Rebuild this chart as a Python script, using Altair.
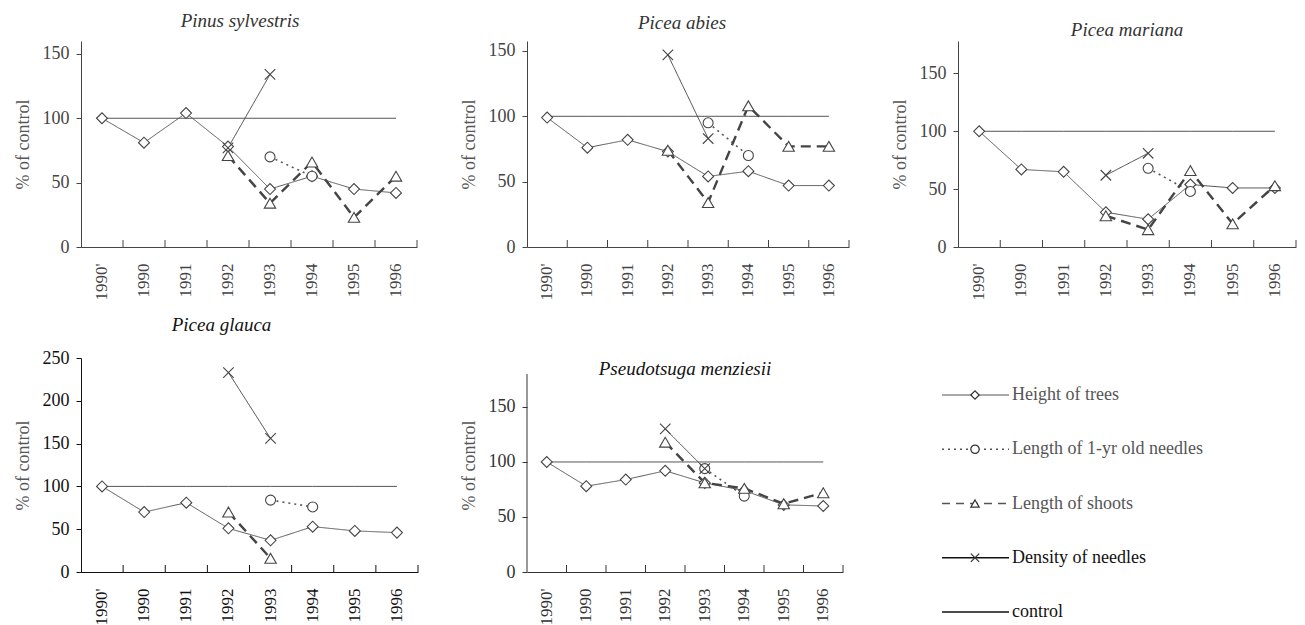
import altair as alt
import pandas as pd

YEARS = ["1990'", "1990", "1991", "1992", "1993", "1994", "1995", "1996"]
SERIES = ["Height of trees", "Length of 1-yr old needles", "Length of shoots", "Density of needles"]
LEGEND_ITEMS = SERIES + ["control"]
CONTROL = [100, 100, 100, 100, 100, 100, 100, 100]

# Pinus sylvestris
pinus_height = [100, 81, 104, 78, 45, 55, 45, 42]
pinus_needles = [None, None, None, None, 70, 55, None, None]
pinus_shoots = [None, None, None, 71, 34, 66, 23, 55]
pinus_density = [None, None, None, 77, 134, None, None, None]

# Picea abies
abies_height = [99, 76, 82, 73, 54, 58, 47, 47]
abies_needles = [None, None, None, None, 95, 70, None, None]
abies_shoots = [None, None, None, 74, 34, 108, 77, 77]
abies_density = [None, None, None, 147, 83, None, None, None]

# Picea mariana
mariana_height = [100, 67, 65, 30, 24, 54, 51, 51]
mariana_needles = [None, None, None, None, 68, 48, None, None]
mariana_shoots = [None, None, None, 27, 15, 66, 20, 53]
mariana_density = [None, None, None, 62, 81, None, None, None]

# Picea glauca
glauca_height = [100, 70, 81, 51, 37, 53, 48, 46]
glauca_needles = [None, None, None, None, 84, 76, None, None]
glauca_shoots = [None, None, None, 70, 16, None, None, None]
glauca_density = [None, None, None, 233, 156, None, None, None]

# Pseudotsuga menziesii
pseudo_height = [100, 78, 84, 92, 81, 74, 61, 60]
pseudo_needles = [None, None, None, None, 94, 69, None, None]
pseudo_shoots = [None, None, None, 118, 81, 76, 62, 72]
pseudo_density = [None, None, None, 130, 94, None, None, None]

SERIF = "Liberation Serif"
X_SHAPE = "M-1,-1L1,1M-1,1L1,-1"

LINE_STYLE = {
    "Height of trees": dict(strokeDash=[1, 0], strokeWidth=1.0, color="#555555"),
    "Length of 1-yr old needles": dict(strokeDash=[2, 4], strokeWidth=1.6, color="#555555"),
    "Length of shoots": dict(strokeDash=[10, 6], strokeWidth=2.4, color="#444444"),
    "Density of needles": dict(strokeDash=[1, 0], strokeWidth=1.0, color="#444444"),
}
POINT_STYLE = {
    "Height of trees": dict(shape="diamond", size=120),
    "Length of 1-yr old needles": dict(shape="circle", size=100),
    "Length of shoots": dict(shape="triangle-up", size=130),
    "Density of needles": dict(shape=X_SHAPE, size=110),
}


def long_df(h, n, s, d):
    rows = []
    for name, vals in zip(SERIES, [h, n, s, d]):
        for yr, v in zip(YEARS, vals):
            if v is not None:
                rows.append({"year": yr, "series": name, "value": v})
    for yr, v in zip(YEARS, CONTROL):
        rows.append({"year": yr, "series": "control", "value": v})
    return pd.DataFrame(rows)


def panel(title, df, width, height, ymax, yticks, t_offset, t_dx=0, t_dy=0,
          axis_top=None, ink="#444444", title_color="#333333"):
    def xenc(bp):
        return alt.X(
            "year:N", sort=YEARS, bandPosition=bp,
            scale=alt.Scale(type="band", domain=YEARS, paddingInner=0, paddingOuter=0),
            axis=alt.Axis(title=None, labelAngle=270, ticks=False, tickSize=0,
                          labelPadding=16, labelFontSize=17, domainColor=ink,
                          labelColor=ink, labelFont=SERIF),
        )

    yenc = alt.Y(
        "value:Q",
        scale=alt.Scale(domain=[0, ymax], nice=False, zero=False),
        axis=alt.Axis(values=yticks, title="% of control", grid=False,
                      domain=axis_top is None, tickSize=5, labelPadding=7,
                      titlePadding=10, labelColor=ink, domainColor=ink,
                      tickColor=ink, labelFont=SERIF, labelFontSize=18,
                      titleFont=SERIF, titleFontSize=18, titleFontWeight="normal",
                      titleColor="#555555"),
    )
    base = alt.Chart(df)
    layers = [
        base.transform_filter(alt.datum.series == "control")
        .mark_line(color="#555555", strokeWidth=1)
        .encode(x=xenc(0.5), y=yenc)
    ]
    for s in SERIES:
        layers.append(
            base.transform_filter(alt.datum.series == s)
            .mark_line(**LINE_STYLE[s])
            .encode(x=xenc(0.5), y=yenc)
        )
    for s in SERIES:
        ps = POINT_STYLE[s]
        layers.append(
            base.transform_filter(alt.datum.series == s)
            .mark_point(shape=ps["shape"], size=ps["size"], filled=True,
                        fill="white", stroke="#444444", strokeWidth=1.1, opacity=1)
            .encode(x=xenc(0.5), y=yenc)
        )
    # inward tick marks at band boundaries of the x axis
    layers.append(
        alt.Chart(pd.DataFrame({"year": YEARS[1:]}))
        .mark_rule(color=ink, strokeWidth=1)
        .encode(x=xenc(0), y=alt.value(height), y2=alt.value(height - 7))
    )
    layers.append(
        alt.Chart(pd.DataFrame({"year": YEARS[-1:]}))
        .mark_rule(color=ink, strokeWidth=1)
        .encode(x=xenc(1), y=alt.value(height), y2=alt.value(height - 7))
    )
    if axis_top is not None:
        layers.append(
            alt.Chart(pd.DataFrame({"value": [0], "value2": [axis_top]}))
            .mark_rule(color=ink, strokeWidth=1)
            .encode(x=alt.value(0), y=yenc, y2="value2:Q")
        )
    return alt.layer(*layers).properties(
        width=width, height=height,
        title=alt.TitleParams(title, font=SERIF, fontStyle="italic", fontSize=19,
                              fontWeight="normal", color=title_color,
                              offset=t_offset, dx=t_dx, dy=t_dy, anchor="middle"),
    )


p1 = panel("Pinus sylvestris", long_df(pinus_height, pinus_needles, pinus_shoots, pinus_density),
           336, 206, 160, [0, 50, 100, 150], 10, t_dx=-9)
p2 = panel("Picea abies", long_df(abies_height, abies_needles, abies_shoots, abies_density),
           322, 206, 157.6, [0, 50, 100, 150], 8, t_dx=-6)
p3 = panel("Picea mariana", long_df(mariana_height, mariana_needles, mariana_shoots, mariana_density),
           338, 206, 178, [0, 50, 100, 150], 1)
p4 = panel("Picea glauca", long_df(glauca_height, glauca_needles, glauca_shoots, glauca_density),
           337, 214, 250, [0, 50, 100, 150, 200, 250], 14, t_dx=-28,
           ink="#111111", title_color="#111111")
p5 = panel("Pseudotsuga menziesii", long_df(pseudo_height, pseudo_needles, pseudo_shoots, pseudo_density),
           316, 214, 194.5, [0, 50, 100, 150], 0, t_dy=21, axis_top=180,
           ink="#333333", title_color="#111111")

# legend panel
leg_df = pd.DataFrame({"item": LEGEND_ITEMS})
ly = alt.Y("item:N", sort=LEGEND_ITEMS,
           scale=alt.Scale(type="point", domain=LEGEND_ITEMS, range=[37, 254], padding=0),
           axis=None)
leg_color = alt.Color("item:N", scale=alt.Scale(domain=LEGEND_ITEMS,
                      range=["#555555", "#555555", "#555555", "#111111", "#111111"]), legend=None)
leg_rule = alt.Chart(leg_df).mark_rule().encode(
    x=alt.value(-16), x2=alt.value(51), y=ly, color=leg_color,
    strokeDash=alt.StrokeDash("item:N", scale=alt.Scale(
        domain=LEGEND_ITEMS, range=[[1, 0], [2, 4], [8, 6], [1, 0], [1, 0]]), legend=None),
    strokeWidth=alt.StrokeWidth("item:N", scale=alt.Scale(
        domain=LEGEND_ITEMS, range=[1.2, 1.6, 1.6, 2, 2]), legend=None),
)
leg_pts = alt.Chart(leg_df).transform_filter(alt.datum.item != "control").mark_point(
    filled=True, fill="white", stroke="#333333", strokeWidth=1.2, opacity=1, size=70
).encode(
    x=alt.value(17), y=ly,
    shape=alt.Shape("item:N", scale=alt.Scale(
        domain=SERIES, range=["diamond", "circle", "triangle-up", X_SHAPE]), legend=None),
)
leg_text = alt.Chart(leg_df).mark_text(
    align="left", baseline="middle", font=SERIF, fontSize=18
).encode(x=alt.value(54), y=ly, text="item:N", color=leg_color)
legend = alt.layer(leg_rule, leg_pts, leg_text).properties(width=338, height=214)

chart = alt.concat(
    p1, p2, p3, p4, p5, legend,
    columns=3, spacing={"row": 111, "column": 109}, bounds="flush", align="each",
).configure_view(stroke=None).properties(padding={"left": 6, "top": 4, "right": 0, "bottom": 0})

chart.save("out.html", embed_options={"renderer": "svg", "actions": False})
